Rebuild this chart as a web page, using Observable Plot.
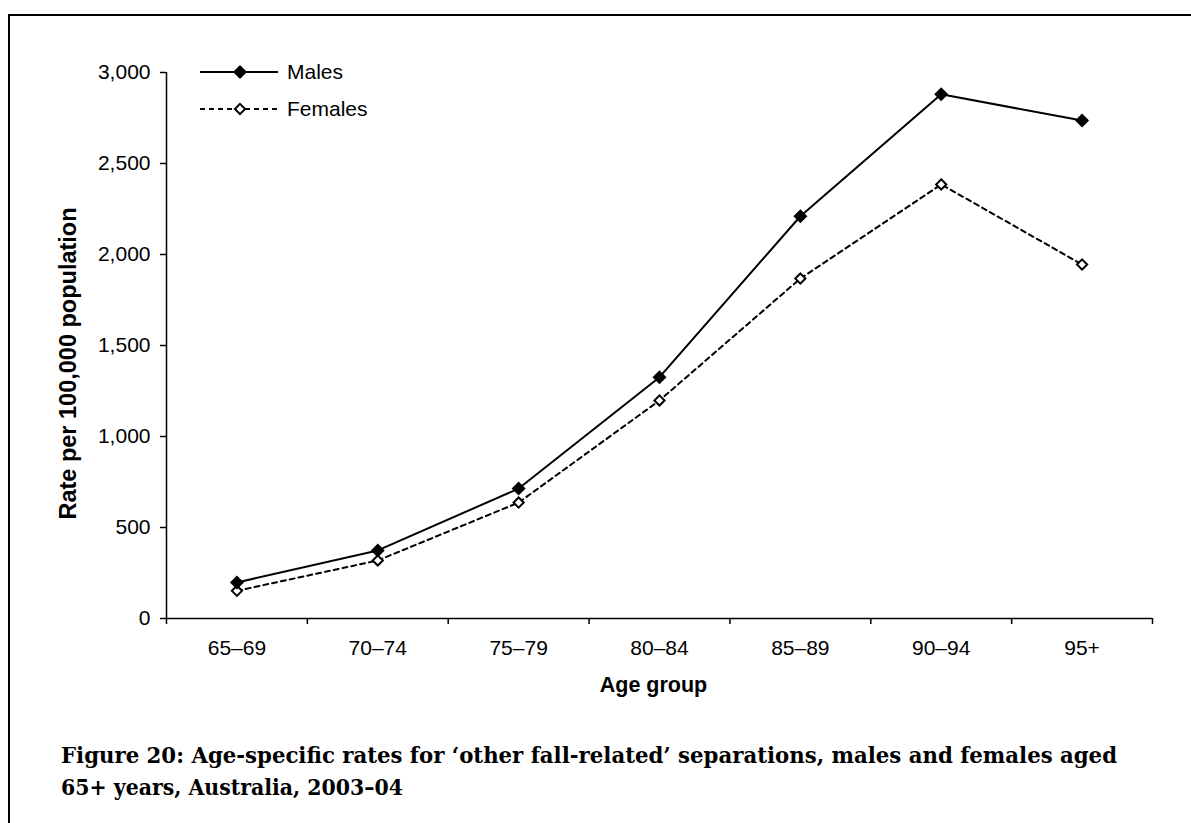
<!DOCTYPE html>
<html>
<head>
<meta charset="utf-8">
<script src="https://cdn.jsdelivr.net/npm/d3@7"></script>
<script src="https://cdn.jsdelivr.net/npm/@observablehq/plot@0.6"></script>
<style>
  html, body { margin: 0; padding: 0; background: #fff; overflow: hidden; }
  #page { position: relative; width: 1191px; height: 823px; }
  #frame { position: absolute; left: 8px; top: 14px; width: 1400px; height: 1000px;
           border-left: 2px solid #000; border-top: 2px solid #000; box-sizing: border-box; }
  #chart { position: absolute; left: 0; top: 0; }
  #legend, #caption { position: absolute; left: 0; top: 0; }
</style>
</head>
<body>
<div id="page">
  <div id="frame"></div>
  <div id="chart"></div>
  <svg id="legend" width="400" height="140"></svg>
  <svg id="caption" width="1191" height="823"></svg>
</div>
<script>
const ages = ["65–69", "70–74", "75–79", "80–84", "85–89", "90–94", "95+"];
const males = [198, 374, 714, 1326, 2210, 2880, 2736];
const females = [152, 319, 637, 1198, 1868, 2385, 1945];
const yTicks = [0, 500, 1000, 1500, 2000, 2500, 3000];
const seriesNames = ["Males", "Females"];
const yLabel = "Rate per 100,000 population";
const xLabel = "Age group";
const captionLines = [
  "Figure 20: Age-specific rates for ‘other fall-related’ separations, males and females aged",
  "65+ years, Australia, 2003–04"
];

const maleRows = ages.map((a, i) => ({pos: i + 0.5, age: a, value: males[i]}));
const femaleRows = ages.map((a, i) => ({pos: i + 0.5, age: a, value: females[i]}));

const font = "'Liberation Sans', Arial, sans-serif";

const chart = Plot.plot({
  width: 1191,
  height: 680,
  marginLeft: 166,
  marginRight: 39,
  marginTop: 72,
  marginBottom: 62,
  style: {fontFamily: font, fontSize: "21px", color: "#000", background: "transparent", overflow: "visible"},
  x: {domain: [0, ages.length]},
  y: {domain: [0, 3000]},
  marks: [
    Plot.axisY({ticks: yTicks, tickFormat: d3.format(","), tickSize: 6, tickPadding: 10, label: null, strokeWidth: 1.5}),
    Plot.axisX({ticks: d3.range(0, ages.length + 1), tickFormat: () => "", tickSize: 6, label: null, strokeWidth: 1.5}),
    Plot.axisX({ticks: ages.map((a, i) => i + 0.5), tickFormat: d => ages[Math.floor(d)], tickSize: 0, tickPadding: 22, label: null}),
    Plot.ruleX([0], {strokeWidth: 1.5}),
    Plot.ruleY([0], {strokeWidth: 1.5}),
    Plot.line(femaleRows, {x: "pos", y: "value", stroke: "#000", strokeWidth: 2, strokeDasharray: "5,4"}),
    Plot.line(maleRows, {x: "pos", y: "value", stroke: "#000", strokeWidth: 2}),
    Plot.dot(femaleRows, {x: "pos", y: "value", symbol: "diamond2", r: 4.6, fill: "#fff", stroke: "#000", strokeWidth: 2}),
    Plot.dot(maleRows, {x: "pos", y: "value", symbol: "diamond2", r: 6.3, fill: "#000", stroke: "none"}),
    Plot.text([xLabel], {text: d => d, frameAnchor: "bottom", textAnchor: "middle", dx: -6, dy: 73, fontWeight: "bold", fontSize: 21.5}),
    Plot.text([yLabel], {text: d => d, frameAnchor: "left", textAnchor: "middle", rotate: -90, dx: -98, dy: 18, fontWeight: "bold", fontSize: 23.5})
  ]
});
document.getElementById("chart").appendChild(chart);

// Legend
const leg = d3.select("#legend");
const entries = [
  {name: seriesNames[0], y: 72, dash: null, fill: "#000", stroke: "none", r: 6.3},
  {name: seriesNames[1], y: 109, dash: "5,4", fill: "#fff", stroke: "#000", r: 4.6}
];
for (const e of entries) {
  leg.append("line").attr("x1", 200).attr("x2", 278).attr("y1", e.y).attr("y2", e.y)
    .attr("stroke", "#000").attr("stroke-width", 2).attr("stroke-dasharray", e.dash);
  leg.append("path").attr("transform", `translate(240,${e.y})`)
    .attr("d", d3.symbol(d3.symbolDiamond2, Math.PI * e.r * e.r)())
    .attr("fill", e.fill).attr("stroke", e.stroke).attr("stroke-width", 2);
  leg.append("text").attr("x", 287).attr("y", e.y).attr("dy", "0.35em")
    .attr("font-family", font).attr("font-size", 21).text(e.name);
}

// Caption
const cap = d3.select("#caption");
const capFont = "'DejaVu Serif Condensed', 'DejaVu Serif', serif";
cap.append("text").attr("x", 61).attr("y", 763)
  .attr("font-family", capFont).attr("font-weight", "bold").attr("font-size", 22)
  .attr("textLength", 1056).attr("lengthAdjust", "spacingAndGlyphs").text(captionLines[0]);
cap.append("text").attr("x", 61).attr("y", 795)
  .attr("font-family", capFont).attr("font-weight", "bold").attr("font-size", 22)
  .attr("textLength", 342).attr("lengthAdjust", "spacingAndGlyphs").text(captionLines[1]);
</script>
</body>
</html>
